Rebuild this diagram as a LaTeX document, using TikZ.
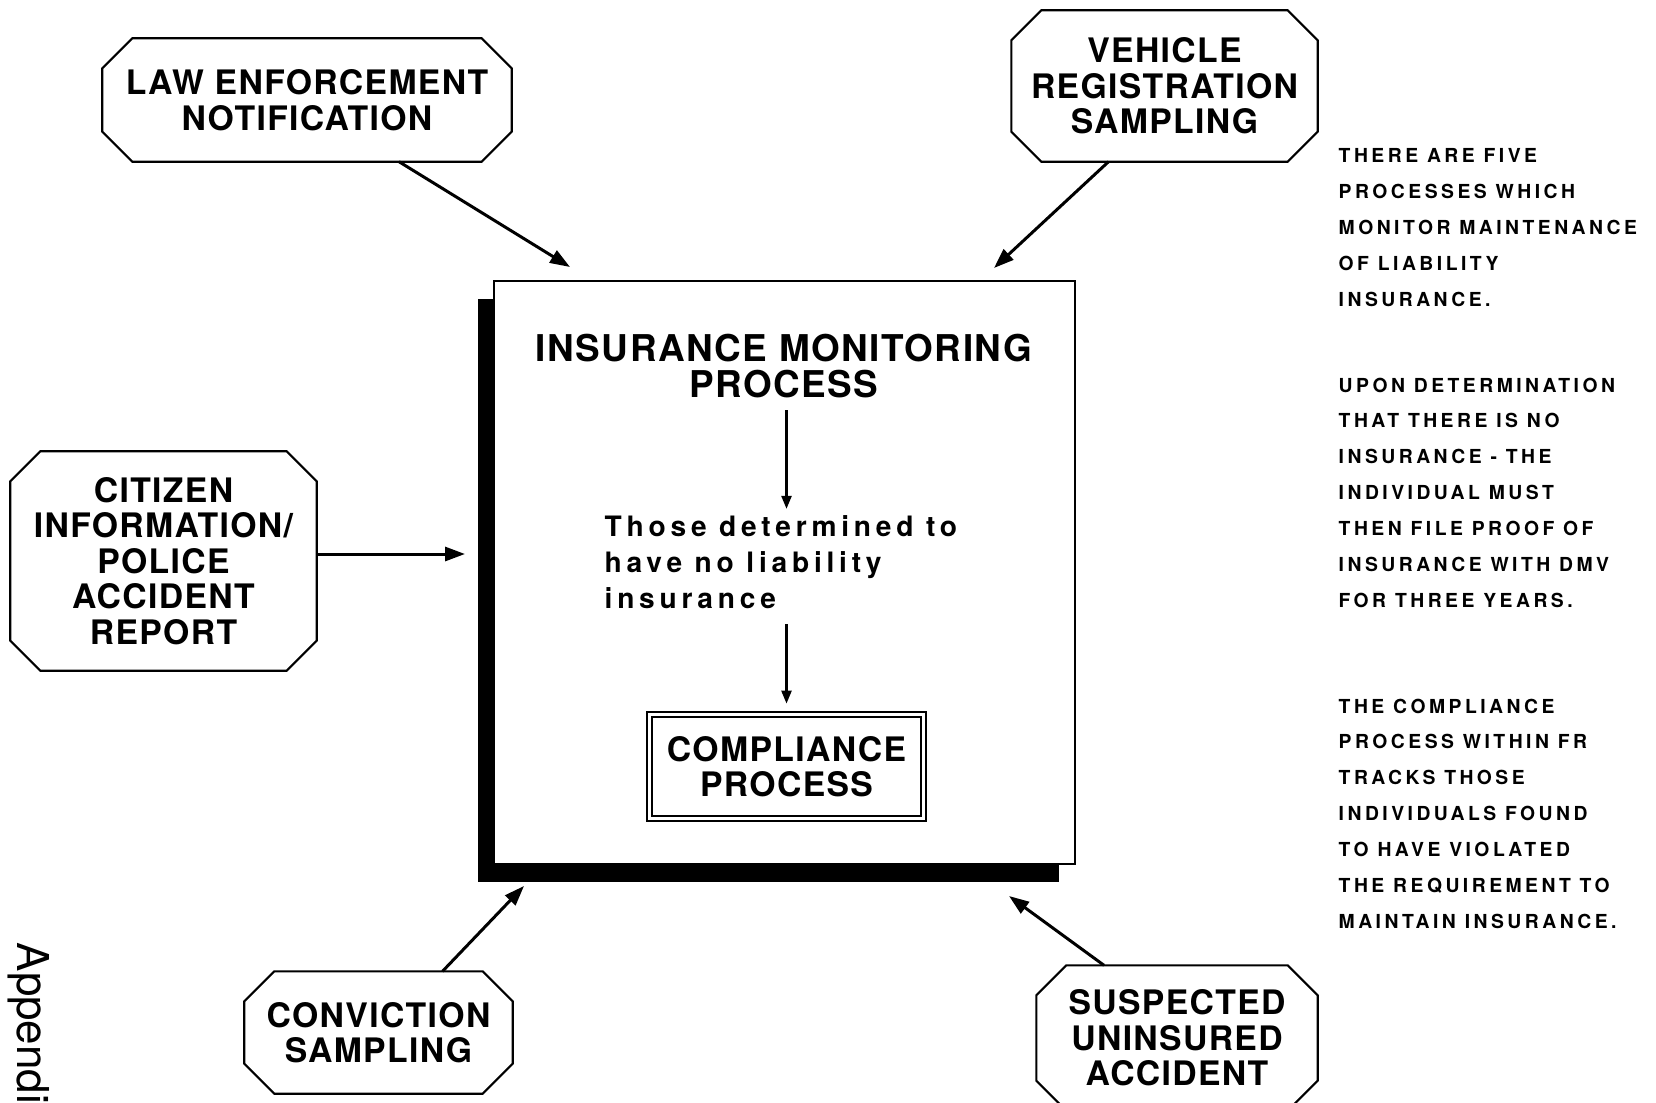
\documentclass[tikz,border=0pt]{standalone}
\usepackage{fontspec}
\setmainfont{TeX Gyre Heros}
\newfontfamily\boxfont[LetterSpace=4]{TeX Gyre Heros}
\newfontfamily\notefont[LetterSpace=18]{TeX Gyre Heros}
\newfontfamily\thosefont[LetterSpace=17]{TeX Gyre Heros}
\usepackage{tikz}
\usetikzlibrary{arrows.meta, positioning, calc, shadows}

\begin{document}
\begin{tikzpicture}[x=0.1mm, y=-0.1mm,
  octbox/.style={inner sep=0pt, align=center, font=\boxfont\bfseries\fontsize{9.6}{10.1}\selectfont},
  feed/.style={-{Triangle[length=2mm,width=1.4mm]}, line width=0.85pt},
  flow/.style={-{Triangle[length=1.3mm,width=1mm]}, line width=0.7pt},
  note/.style={anchor=north west, inner sep=0pt, align=left,
    font=\notefont\bfseries\fontsize{5.5}{10.2}\selectfont}]
\useasboundingbox (0,0) rectangle (1656,1102);
\clip (0,0) rectangle (1656,1102);

% the five monitoring processes
\node[octbox, minimum width=4.08cm, minimum height=1.22cm] (law) at (307,100)
  {LAW ENFORCEMENT\\NOTIFICATION};
\node[octbox, minimum width=3.05cm, minimum height=1.50cm] (veh) at (1164.5,86)
  {VEHICLE\\REGISTRATION\\SAMPLING};
\node[octbox, minimum width=3.05cm, minimum height=2.18cm] (cit) at (163.5,561)
  {CITIZEN\\INFORMATION/\\POLICE\\ACCIDENT\\REPORT};
\node[octbox, minimum width=2.67cm, minimum height=1.21cm] (conv) at (378.5,1032.5)
  {CONVICTION\\SAMPLING};
\node[octbox, minimum width=2.80cm, minimum height=1.44cm] (susp) at (1177,1038)
  {SUSPECTED\\UNINSURED\\ACCIDENT};

% cut corners round each process
\foreach \n in {law,veh,cit,conv,susp}
  \draw[line width=0.6pt] ([xshift=3mm]\n.north west) -- ([xshift=-3mm]\n.north east)
    -- ([yshift=-3mm]\n.north east) -- ([yshift=3mm]\n.south east)
    -- ([xshift=-3mm]\n.south east) -- ([xshift=3mm]\n.south west)
    -- ([yshift=3mm]\n.south west) -- ([yshift=-3mm]\n.north west) -- cycle;

% central box with its drop shadow
\node[draw, line width=0.8pt, fill=white, minimum width=5.81cm, minimum height=5.83cm,
  drop shadow={shadow xshift=-1.6mm, shadow yshift=-1.8mm, fill=black, opacity=1}]
  (mon) at (784.5,572.5) {};
\node[inner sep=0pt, align=center, font=\boxfont\bfseries\fontsize{10.5}{10}\selectfont]
  (title) at (784,366) {INSURANCE MONITORING\\PROCESS};
\node[anchor=west, inner sep=0pt, align=left, font=\thosefont\bfseries\fontsize{8}{10.2}\selectfont]
  (those) at (604,562) {Those determined to\\have no liability\\insurance};
\node[draw, double, double distance=0.35mm, line width=0.5pt, minimum width=2.74cm,
  minimum height=1.04cm, align=center, font=\boxfont\bfseries\fontsize{9.6}{10.1}\selectfont]
  (cmp) at (786.5,766.5) {COMPLIANCE\\PROCESS};

\draw[flow, shorten <=1.2mm, shorten >=0.6mm] (title.south -| cmp.north) -- (those.north -| cmp.north);
\draw[flow, shorten <=1.5mm, shorten >=1mm] (those.south -| cmp.north) -- (cmp.north);

% arrows into the monitoring box
\coordinate (law tip) at (570,267);
\coordinate (veh tip) at (994,268);
\coordinate (cit tip) at (465,554);
\coordinate (conv tip) at (524,886);
\coordinate (susp tip) at (1009,896);
\draw[feed] ([xshift=9.2mm]law.south) -- (law tip);
\draw[feed] ([xshift=-5.6mm]veh.south) -- (veh tip);
\draw[feed] (cit.east |- cit tip) -- (cit tip);
\draw[feed] ([xshift=6.4mm]conv.north) -- (conv tip);
\draw[feed] ([xshift=-7.3mm]susp.north) -- (susp tip);

% notes on the right
\node[note] (note1) at (1338,148) {THERE ARE FIVE\\PROCESSES WHICH\\MONITOR MAINTENANCE\\OF LIABILITY\\INSURANCE.};
\node[note] (note2) at (1338,377) {UPON DETERMINATION\\THAT THERE IS NO\\INSURANCE - THE\\INDIVIDUAL MUST\\THEN FILE PROOF OF\\INSURANCE WITH DMV\\FOR THREE YEARS.};
\node[note] (note3) at (1338,698) {THE COMPLIANCE\\PROCESS WITHIN FR\\TRACKS THOSE\\INDIVIDUALS FOUND\\TO HAVE VIOLATED\\THE REQUIREMENT TO\\MAINTAIN INSURANCE.};

\node[rotate=-90, anchor=base west, inner sep=0pt, font=\fontsize{12.5}{14}\selectfont]
  (app) at (18,942) {Appendix};
\end{tikzpicture}
\end{document}
